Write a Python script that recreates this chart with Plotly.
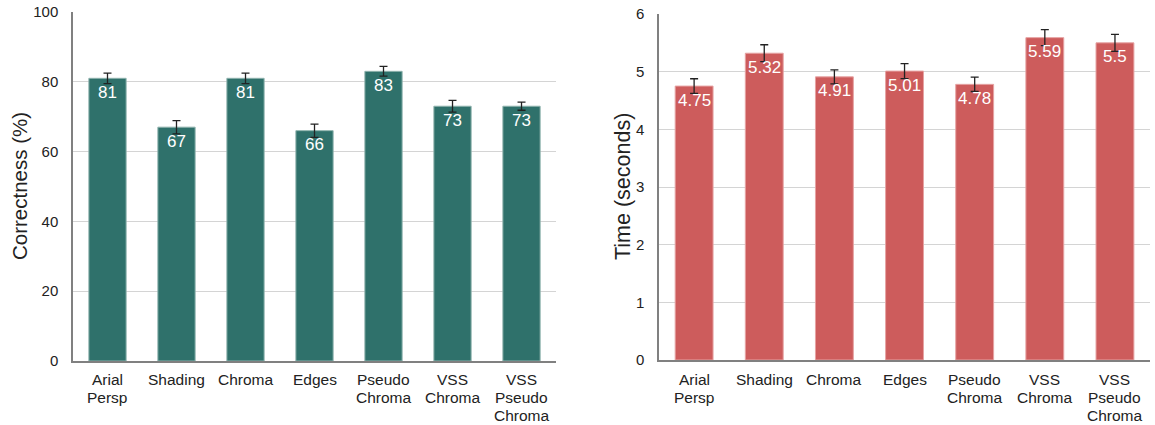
import plotly.graph_objects as go

# Conditions compared in the study
categories = ["Arial<br>Persp", "Shading", "Chroma", "Edges",
              "Pseudo<br>Chroma", "VSS<br>Chroma", "VSS<br>Pseudo<br>Chroma"]

# Correctness (%) and standard error
correctness = [81, 67, 81, 66, 83, 73, 73]
correctness_err = [1.5, 1.9, 1.5, 1.9, 1.4, 1.7, 1.15]

# Response time (seconds) and standard error
time_sec = [4.75, 5.32, 4.91, 5.01, 4.78, 5.59, 5.5]
time_err = [0.127, 0.147, 0.12, 0.13, 0.124, 0.14, 0.147]

GREEN = "#2f716b"
RED = "#cd5c5c"
FONT = "Liberation Sans, Arial, sans-serif"
H = 425

fig = go.Figure()

fig.add_trace(go.Bar(
    x=categories, y=correctness, width=0.54,
    marker=dict(color=GREEN, line=dict(color="#8fb3ae", width=1)),
    error_y=dict(type="data", array=correctness_err, color="#222", thickness=1.3, width=4),
    xaxis="x", yaxis="y", showlegend=False,
))

fig.add_trace(go.Bar(
    x=categories, y=time_sec, width=0.54,
    marker=dict(color=RED, line=dict(color="#e6a3a3", width=1)),
    error_y=dict(type="data", array=time_err, color="#222", thickness=1.3, width=4),
    xaxis="x2", yaxis="y2", showlegend=False,
))

annotations = []

# Value labels just inside the top of each bar
for cat, v in zip(categories, correctness):
    annotations.append(dict(x=cat, y=v, xref="x", yref="y", text=str(v), showarrow=False,
                            yanchor="middle", yshift=-14,
                            font=dict(color="white", size=17, family=FONT)))
for cat, v in zip(categories, time_sec):
    annotations.append(dict(x=cat, y=v, xref="x2", yref="y2", text=f"{v:g}", showarrow=False,
                            yanchor="middle", yshift=-14,
                            font=dict(color="white", size=17, family=FONT)))

# Category labels, one line at a time for a tight line spacing
for xref in ("x", "x2"):
    for cat in categories:
        for i, line in enumerate(cat.split("<br>")):
            annotations.append(dict(x=cat, y=1 - (379 + 18 * i) / H, xref=xref, yref="paper",
                                    text=line, showarrow=False,
                                    xanchor="center", yanchor="middle",
                                    font=dict(size=15.5, color="#222", family=FONT)))

# Axis titles
annotations.append(dict(x=19 / 1155, y=1 - 186 / H, xref="paper", yref="paper",
                        text="Correctness (%)", textangle=-90, showarrow=False,
                        xanchor="center", yanchor="middle",
                        font=dict(size=20.5, color="#222", family=FONT)))
annotations.append(dict(x=623 / 1155, y=1 - 187 / H, xref="paper", yref="paper",
                        text="Time (seconds)", textangle=-90, showarrow=False,
                        xanchor="center", yanchor="middle",
                        font=dict(size=21.5, color="#222", family=FONT)))

axis_common = dict(showline=True, linecolor="#808080", linewidth=1.5, automargin=False,
                   ticks="")
ytick_font = dict(size=15, color="#222", family=FONT)

fig.update_layout(
    width=1155, height=H,
    margin=dict(l=0, r=0, t=0, b=0),
    paper_bgcolor="white", plot_bgcolor="white",
    font=dict(family=FONT, color="#222"),
    annotations=annotations,
    xaxis=dict(domain=[0.0632, 0.4814], anchor="y", showticklabels=False, **axis_common),
    yaxis=dict(domain=[1 - 361 / H, 1 - 12 / H], anchor="x", range=[0, 100],
               dtick=20, showgrid=True, gridcolor="#d4d4d4", gridwidth=1,
               tickfont=ytick_font, ticklabelstandoff=10,
               zeroline=False, **axis_common),
    xaxis2=dict(domain=[0.5706, 0.9957], anchor="y2", showticklabels=False, **axis_common),
    yaxis2=dict(domain=[1 - 360 / H, 1 - 14 / H], anchor="x2", range=[0, 6],
                dtick=1, showgrid=True, gridcolor="#d4d4d4", gridwidth=1,
                tickfont=ytick_font, ticklabelstandoff=10,
                zeroline=False, **axis_common),
)

fig.write_html("out.html")
